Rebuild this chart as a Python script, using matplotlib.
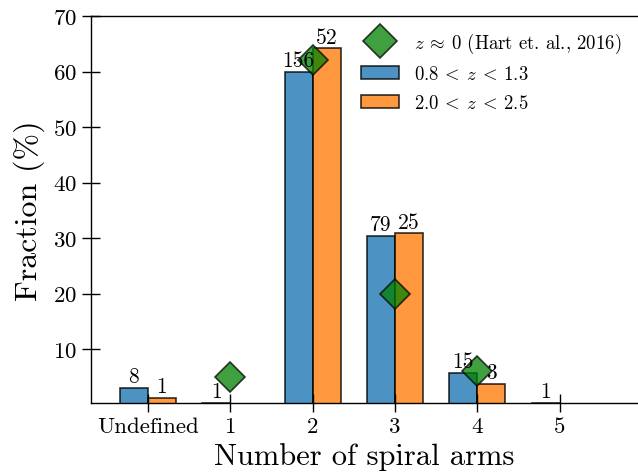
import numpy as np
import matplotlib
matplotlib.use("Agg")
import matplotlib.pyplot as plt

plt.rcParams['font.family'] = 'serif'
plt.rcParams['font.serif'] = ['cmr10']
plt.rcParams['mathtext.fontset'] = 'cm'
plt.rcParams['axes.unicode_minus'] = False
plt.rcParams['axes.formatter.use_mathtext'] = True

categories = ['Undefined', '1', '2', '3', '4', '5']
counts_low = [8, 1, 156, 79, 15, 1]     # 0.8 < z < 1.3
counts_high = [1, 0, 52, 25, 3, 0]      # 2.0 < z < 2.5
hart_arms = [1, 2, 3, 4]
hart_frac = [5, 62, 20, 6]              # z ~ 0, Hart et al. 2016

counts_low = np.array(counts_low)
counts_high = np.array(counts_high)
frac_low = 100 * counts_low / counts_low.sum()
frac_high = 100 * counts_high / counts_high.sum()
x = np.arange(len(categories))
w = 0.34

fig = plt.figure(figsize=(6.38, 4.77), dpi=100)
ax = fig.add_axes([91 / 638, 73 / 477, 1 - 91 / 638, 387 / 477])

b1 = ax.bar(x, frac_low, width=-w, align='edge', color='tab:blue', alpha=0.8,
            edgecolor='k', linewidth=1.2, label=r'$0.8\:<\:z\:<\:1.3$')
b2 = ax.bar(x, frac_high, width=w, align='edge', color='tab:orange', alpha=0.8,
            edgecolor='k', linewidth=1.2, label=r'$2.0\:<\:z\:<\:2.5$')
m, = ax.plot(hart_arms, hart_frac, 'D', color='green', alpha=0.75, markersize=15.5,
             markeredgecolor='k', markeredgewidth=1.2, linestyle='none',
             label=r'$z\:\approx\:0$ (Hart et. al., 2016)')

for i in range(len(x)):
    if counts_low[i] > 0:
        ax.text(x[i] - w / 2, frac_low[i] + 0.3, str(counts_low[i]), ha='center', va='bottom', fontsize=15.5)
    if counts_high[i] > 0:
        ax.text(x[i] + w / 2, frac_high[i] + 0.3, str(counts_high[i]), ha='center', va='bottom', fontsize=15.5)

ax.set_xlim(-0.69, 5.95)
ax.set_ylim(0.3, 70)
ax.set_yticks([10, 20, 30, 40, 50, 60, 70])
ax.set_xticks(x)
ax.set_xticklabels(categories)
ax.tick_params(direction='inout', length=13, width=1, labelsize=16.5)
ax.spines['right'].set_visible(False)
for s in ['left', 'bottom', 'top']:
    ax.spines[s].set_linewidth(1)
ax.set_xlabel('Number of spiral arms', fontsize=22)
ax.set_ylabel('Fraction (%)', fontsize=23, labelpad=6)

ax.legend(handles=[m, b1, b2], loc='upper right', bbox_to_anchor=(1.0, 1.005),
          frameon=False, fontsize=13.5, markerscale=1.1, handlelength=2.0,
          labelspacing=0.55)

fig.savefig('out.png', dpi=100)
